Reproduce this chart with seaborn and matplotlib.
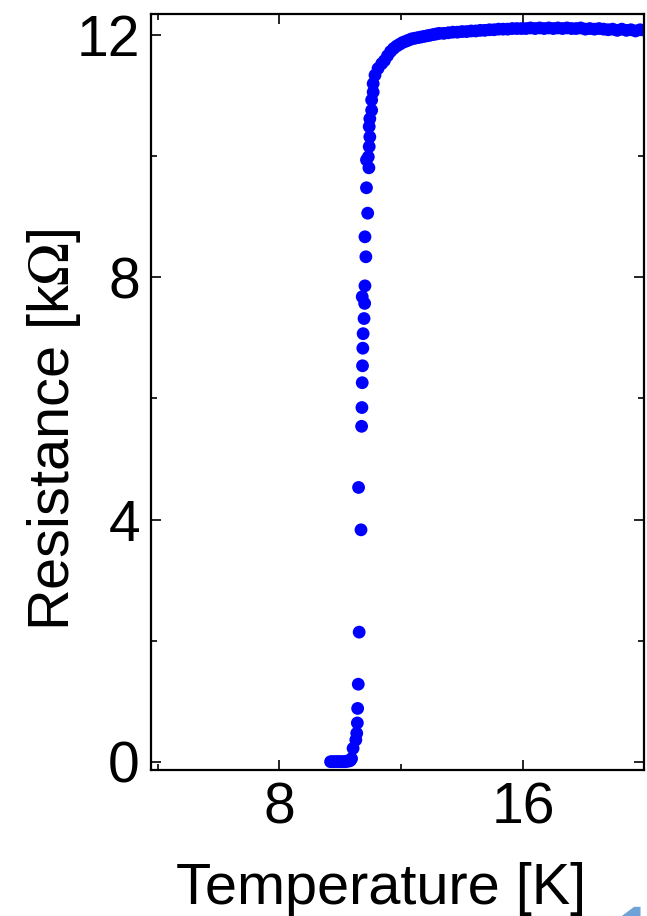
import matplotlib
matplotlib.use("Agg")
import matplotlib.pyplot as plt
from matplotlib.patches import Polygon
from matplotlib.ticker import MultipleLocator, FixedLocator
import seaborn as sns
import pandas as pd

# temperature [K] / resistance [kOhm]
temp_low = [9.68, 9.74, 9.80, 9.86, 9.92, 9.98, 10.04, 10.10, 10.16, 10.22,
            10.28, 10.33, 10.37, 10.42, 10.51, 10.54, 10.56, 10.57, 10.59, 10.62,
            10.68, 10.60, 10.70, 10.71, 10.72, 10.73, 10.74, 10.75, 10.78, 10.80,
            10.72, 10.81, 10.84, 10.81, 10.90, 10.86]
res_low = [0.0, 0.0, 0.0, 0.0, 0.0, 0.0, 0.0, 0.0, 0.0, 0.01,
           0.01, 0.02, 0.05, 0.22, 0.36, 0.47, 0.64, 0.88, 1.28, 2.14,
           3.83, 4.53, 5.54, 5.85, 6.26, 6.54, 6.83, 7.07, 7.32, 7.57,
           7.68, 7.86, 8.34, 8.67, 9.06, 9.48]

temp_knee = [10.94, 10.86, 10.92, 10.95, 10.97, 10.95, 10.97, 11.03, 11.03, 11.08,
             11.08, 11.14, 11.24, 11.36, 11.45, 11.55, 11.65, 11.75, 11.85, 11.95,
             12.05, 12.15, 12.25, 12.35, 12.45, 12.55, 12.65, 12.75, 12.85, 12.95,
             13.05, 13.15, 13.25]
res_knee = [9.81, 9.94, 9.99, 10.16, 10.32, 10.49, 10.62, 10.76, 10.93, 11.06,
            11.20, 11.34, 11.45, 11.53, 11.58, 11.66, 11.73, 11.78, 11.82, 11.85,
            11.88, 11.90, 11.92, 11.94, 11.95, 11.96, 11.97, 11.98, 11.99, 12.00,
            12.01, 12.02, 12.03]

temp_high = [13.40, 13.55, 13.70, 13.85, 14.00, 14.15, 14.30, 14.45, 14.60, 14.75,
             14.90, 15.05, 15.20, 15.35, 15.50, 15.65, 15.80, 15.95, 16.10, 16.25,
             16.40, 16.55, 16.70, 16.85, 17.00, 17.15, 17.30, 17.45, 17.60, 17.75,
             17.90, 18.05, 18.20, 18.35, 18.50, 18.65, 18.80, 18.95, 19.10, 19.25,
             19.40, 19.55, 19.70, 19.85, 20.00]
res_high = [12.03, 12.04, 12.05, 12.05, 12.06, 12.06, 12.07, 12.07, 12.08, 12.08,
            12.09, 12.09, 12.10, 12.10, 12.10, 12.11, 12.11, 12.11, 12.11, 12.12,
            12.11, 12.12, 12.11, 12.12, 12.11, 12.12, 12.11, 12.12, 12.11, 12.11,
            12.12, 12.10, 12.11, 12.10, 12.11, 12.10, 12.09, 12.10, 12.08, 12.10,
            12.08, 12.09, 12.07, 12.09, 12.08]

df = pd.DataFrame({
    "T": temp_low + temp_knee + temp_high,
    "R": res_low + res_knee + res_high,
})

sns.set_style("ticks")
plt.rcParams["font.family"] = ["Liberation Sans", "DejaVu Sans"]
plt.rcParams["mathtext.fontset"] = "stix"
plt.rcParams["text.color"] = "black"
plt.rcParams["axes.labelcolor"] = "black"

fig = plt.figure(figsize=(6.47, 9.16), dpi=100)
ax = fig.add_axes([0.2334, 0.1594, 0.7620, 0.8253])

sns.scatterplot(data=df, x="T", y="R", ax=ax, color="#0000ff", s=85,
                edgecolor="none", linewidth=0, legend=False)

ax.set_xlim(3.78, 19.98)
ax.set_ylim(-0.137, 12.35)
ax.xaxis.set_major_locator(FixedLocator([8, 16]))
ax.xaxis.set_minor_locator(FixedLocator([4, 12, 20]))
ax.yaxis.set_major_locator(MultipleLocator(4))
ax.yaxis.set_minor_locator(FixedLocator([2, 6, 10]))

ax.tick_params(which="both", direction="in", top=True, right=True, width=1.2, colors="black")
ax.tick_params(which="major", length=7.5, labelsize=41, pad=8)
ax.tick_params(which="minor", length=4.5)
for sp in ax.spines.values():
    sp.set_linewidth(1.6)
    sp.set_color("black")

ax.set_xlabel("Temperature [K]", fontsize=41.5)
ax.set_ylabel(r"Resistance [k$\Omega$]", fontsize=41.5)
ax.xaxis.set_label_coords(0.4675, -0.122)
ax.xaxis.label.set_va("top")
ax.yaxis.set_label_coords(-0.138, 0.45)

# sliver of the neighbouring panel at the lower right corner
fig.patches.append(Polygon([[0.961, 0.0], [0.980, 0.010], [0.990, 0.010], [0.990, 0.0]],
                           closed=True, transform=fig.transFigure,
                           facecolor="#6fa3d8", edgecolor="none"))

fig.savefig("out.png", dpi=100)
